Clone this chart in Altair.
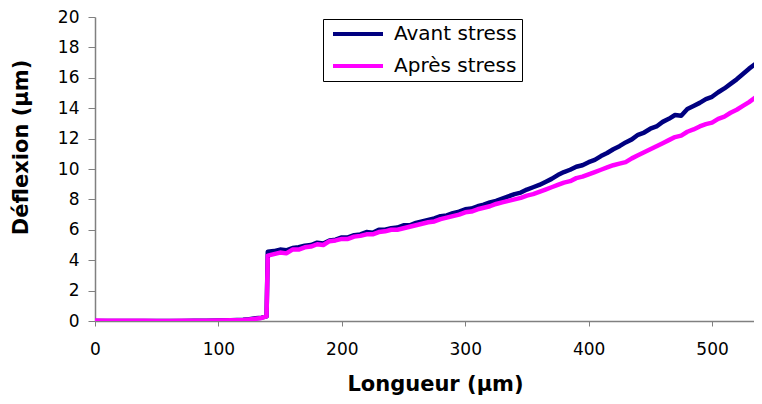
import altair as alt
import pandas as pd

# ---- data ----
series_names = ["Avant stress", "Après stress"]

pre_x = [0, 10, 20, 30, 40, 50, 60, 70, 80, 90, 100, 110, 120, 125, 130, 135, 139]
pre_avant = [0.0, 0.0, 0.0, 0.0, 0.0, 0.0, 0.0, 0.0, 0.01, 0.02, 0.03, 0.05, 0.08, 0.12, 0.18, 0.22, 0.3]
pre_apres = [0.03, 0.02, 0.02, 0.01, 0.01, 0.0, 0.0, 0.01, 0.01, 0.02, 0.03, 0.05, 0.07, 0.1, 0.15, 0.2, 0.3]

post_x = [140, 145, 150, 155, 160, 165, 170, 175, 180, 185,
          190, 195, 200, 205, 210, 215, 220, 225, 230, 235,
          240, 245, 250, 255, 260, 265, 270, 275, 280, 285,
          290, 295, 300, 305, 310, 315, 320, 325, 330, 335,
          340, 345, 350, 355, 360, 365, 370, 375, 380, 385,
          390, 395, 400, 405, 410, 415, 420, 425, 430, 435,
          440, 445, 450, 455, 460, 465, 470, 475, 480, 485,
          490, 495, 500, 505, 510, 515, 520, 525, 530, 535,
          540]

post_avant = [4.55, 4.6, 4.7, 4.65, 4.8, 4.85, 4.95, 5.0, 5.15, 5.1,
              5.3, 5.35, 5.5, 5.5, 5.65, 5.7, 5.85, 5.8, 6.0, 6.0,
              6.1, 6.15, 6.3, 6.3, 6.45, 6.55, 6.65, 6.75, 6.9, 6.95,
              7.1, 7.2, 7.35, 7.4, 7.55, 7.65, 7.8, 7.9, 8.05, 8.2,
              8.35, 8.45, 8.65, 8.8, 8.95, 9.15, 9.35, 9.6, 9.8, 9.95,
              10.15, 10.25, 10.45, 10.6, 10.85, 11.05, 11.3, 11.5, 11.75, 11.95,
              12.25, 12.4, 12.65, 12.8, 13.1, 13.3, 13.55, 13.5, 13.95, 14.15,
              14.35, 14.6, 14.75, 15.05, 15.3, 15.6, 15.9, 16.25, 16.6, 16.9,
              17.2]

post_apres = [4.3, 4.4, 4.5, 4.45, 4.7, 4.7, 4.85, 4.9, 5.05, 5.0,
              5.25, 5.3, 5.4, 5.4, 5.55, 5.6, 5.7, 5.7, 5.85, 5.9,
              6.0, 6.0, 6.1, 6.2, 6.3, 6.4, 6.5, 6.55, 6.7, 6.8,
              6.9, 7.0, 7.15, 7.2, 7.35, 7.45, 7.55, 7.7, 7.8, 7.9,
              8.0, 8.1, 8.25, 8.35, 8.5, 8.65, 8.8, 8.95, 9.1, 9.2,
              9.4, 9.5, 9.65, 9.8, 9.95, 10.1, 10.25, 10.35, 10.45, 10.7,
              10.9, 11.1, 11.3, 11.5, 11.7, 11.9, 12.1, 12.2, 12.45, 12.6,
              12.8, 12.95, 13.05, 13.3, 13.45, 13.7, 13.9, 14.15, 14.4, 14.7,
              14.95]

x_ticks = [0, 100, 200, 300, 400, 500]
y_ticks = [0, 2, 4, 6, 8, 10, 12, 14, 16, 18, 20]

# ---- build table ----
rows = []
for i, (xs, ys) in enumerate([(pre_x + post_x, pre_avant + post_avant),
                              (pre_x + post_x, pre_apres + post_apres)]):
    for k, (xv, yv) in enumerate(zip(xs, ys)):
        rows.append({"x": xv, "y": yv, "serie": series_names[i], "ord": i * 1000 + k})
df = pd.DataFrame(rows)

FONT = "DejaVu Sans"

chart = alt.Chart(df).mark_line(strokeWidth=4.5, clip=True, strokeJoin="round").encode(
    x=alt.X("x:Q",
            scale=alt.Scale(domain=[0, 534], nice=False, zero=False),
            axis=alt.Axis(values=x_ticks, title="Longueur (µm)", grid=False,
                          tickSize=5, labelPadding=15, titlePadding=16,
                          titleX=340, labelFlush=False)),
    y=alt.Y("y:Q",
            scale=alt.Scale(domain=[0, 20], nice=False),
            axis=alt.Axis(values=y_ticks, title="Déflexion (µm)", grid=False,
                          tickSize=7, labelPadding=9, titlePadding=26,
                          titleY=130)),
    color=alt.Color("serie:N",
                    scale=alt.Scale(domain=series_names, range=["#000080", "#FF00FF"]),
                    sort=series_names,
                    title=None,
                    legend=alt.Legend(orient="none", legendX=228, legendY=2,
                                      symbolType="M-1,0H9", symbolSize=100,
                                      symbolStrokeWidth=4, symbolFillColor="transparent",
                                      labelFontSize=20,
                                      labelFont=FONT, labelColor="black",
                                      labelOffset=46, rowPadding=12, padding=5,
                                      strokeColor="black", fillColor="white")),
    order=alt.Order("ord:Q"),
    detail="serie:N",
).properties(
    width=659, height=304,
    autosize=alt.AutoSizeParams(type="none"),
    padding={"left": 87, "top": 9, "right": 0, "bottom": 75},
    background="white",
).configure_view(stroke=None).configure_axis(
    domainColor="#808080", tickColor="#808080", domainWidth=1.5,
    labelFont=FONT, labelFontSize=17, labelColor="black",
    titleFont=FONT, titleFontSize=21, titleFontWeight="bold", titleColor="black",
)

chart.save("out.html", embed_options={"renderer": "svg", "actions": False})
